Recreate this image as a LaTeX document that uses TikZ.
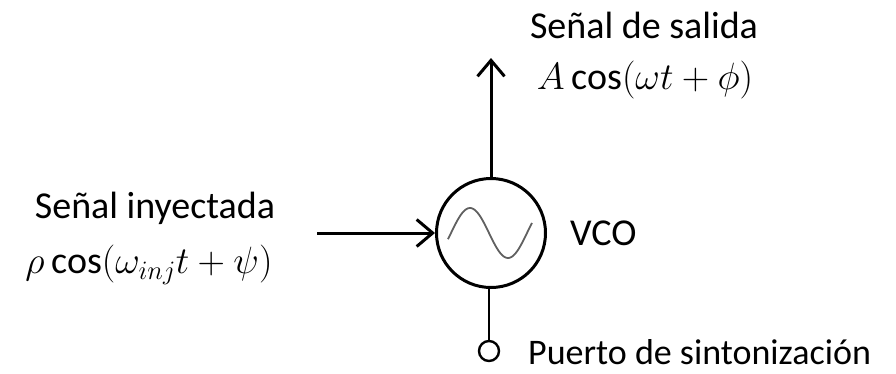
\RequirePackage{fix-cm}
\documentclass[tikz,border=0pt]{standalone}
\usepackage{fontspec}
\setmainfont{Carlito}
\usetikzlibrary{arrows.meta}
\begin{document}
\begin{tikzpicture}[x=1pt,y=-1pt,
  lbl/.style={font=\fontsize{38}{44}\selectfont, inner sep=0pt},
  wire/.style={line width=3pt},
  arr/.style={wire, -{Straight Barb[length=16pt,width=27pt,line width=3pt]}}]
\useasboundingbox (0,0) rectangle (896,373);
\node[draw, circle, line width=3pt, minimum size=109pt, inner sep=0pt] (vco) at (491,233) {};
\node[draw, circle, line width=2.4pt, minimum size=20pt, inner sep=0pt] (port) at (489,351) {};
\draw[gray!75!black, line width=1.8pt] plot[domain=448:532, samples=60] (\x, {233-25*sin(360*(\x-489)/76+180)});
\coordinate (outtip) at (491,58);
\coordinate (instart) at (317,233);
\draw[arr] (vco.north) -- (outtip);
\draw[arr] (instart) -- (vco.west);
\draw[wire, line width=2.2pt] (vco.south -| port) -- (port.north);
\node[lbl] (t1) at (644,25) {Señal de salida};
\node[lbl] (t2) at (645,80) {$A\cos(\omega t+\phi)$};
\node[lbl] (t3) at (155,208) {Señal inyectada};
\node[lbl] (t4) at (149,265) {$\rho\cos(\omega_{inj}t+\psi)$};
\node[lbl, anchor=west] (t5) at (570,233) {VCO};
\node[lbl, anchor=west, font=\fontsize{36}{42}\selectfont] (t6) at (528,352) {Puerto de sintonización};
\end{tikzpicture}
\end{document}
